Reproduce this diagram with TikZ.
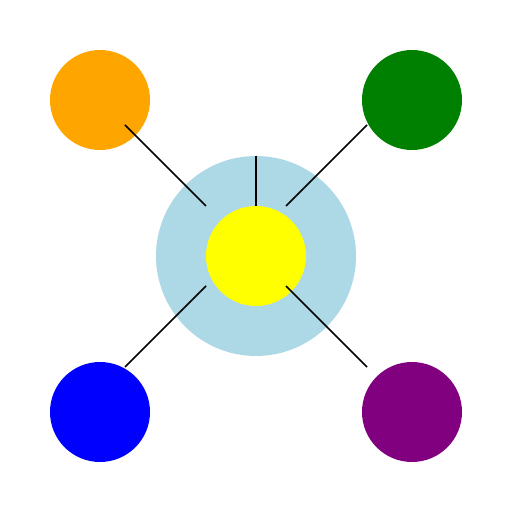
\documentclass[tikz,border=0pt]{standalone}
\usepackage{tikz}

\definecolor{hubblue}{RGB}{173,216,230}
\definecolor{sunyellow}{RGB}{255,255,0}
\definecolor{leafblue}{RGB}{0,0,255}
\definecolor{leafgreen}{RGB}{0,128,0}
\definecolor{leaforange}{RGB}{255,165,0}
\definecolor{leafpurple}{RGB}{128,0,128}

\tikzset{
    ball/.style={circle, inner sep=0pt, minimum size=2cm, draw=none},
    spoke/.style={line width=0.85pt, black}
}

\begin{document}
\begin{tikzpicture}
    \useasboundingbox (0,0) rectangle (10.24,10.24);
    % Hub and its inner circle
    \node[ball, fill=hubblue, minimum size=4cm] (hub) at (5.12,5.12) {};
    \node[ball, fill=sunyellow] (sun) at (hub.center) {};
    % Corner circles
    \node[ball, fill=leaforange] (orange) at (2,8.24) {};
    \node[ball, fill=leafgreen] (green) at (8.24,8.24) {};
    \node[ball, fill=leafblue] (blue) at (2,2) {};
    \node[ball, fill=leafpurple] (purple) at (8.24,2) {};
    % Spokes
    \draw[spoke] (hub.north) -- (sun.north);
    \draw[spoke] ([shift={(0.5,-0.5)}]orange.center) -- ([shift={(-1,1)}]hub.center);
    \draw[spoke] ([shift={(-0.9,-0.5)}]green.center) -- ([shift={(0.6,1)}]hub.center);
    \draw[spoke] ([shift={(0.5,0.9)}]blue.center) -- ([shift={(-1,-0.6)}]hub.center);
    \draw[spoke] ([shift={(0.6,-0.6)}]hub.center) -- ([shift={(-0.9,0.9)}]purple.center);
\end{tikzpicture}
\end{document}
